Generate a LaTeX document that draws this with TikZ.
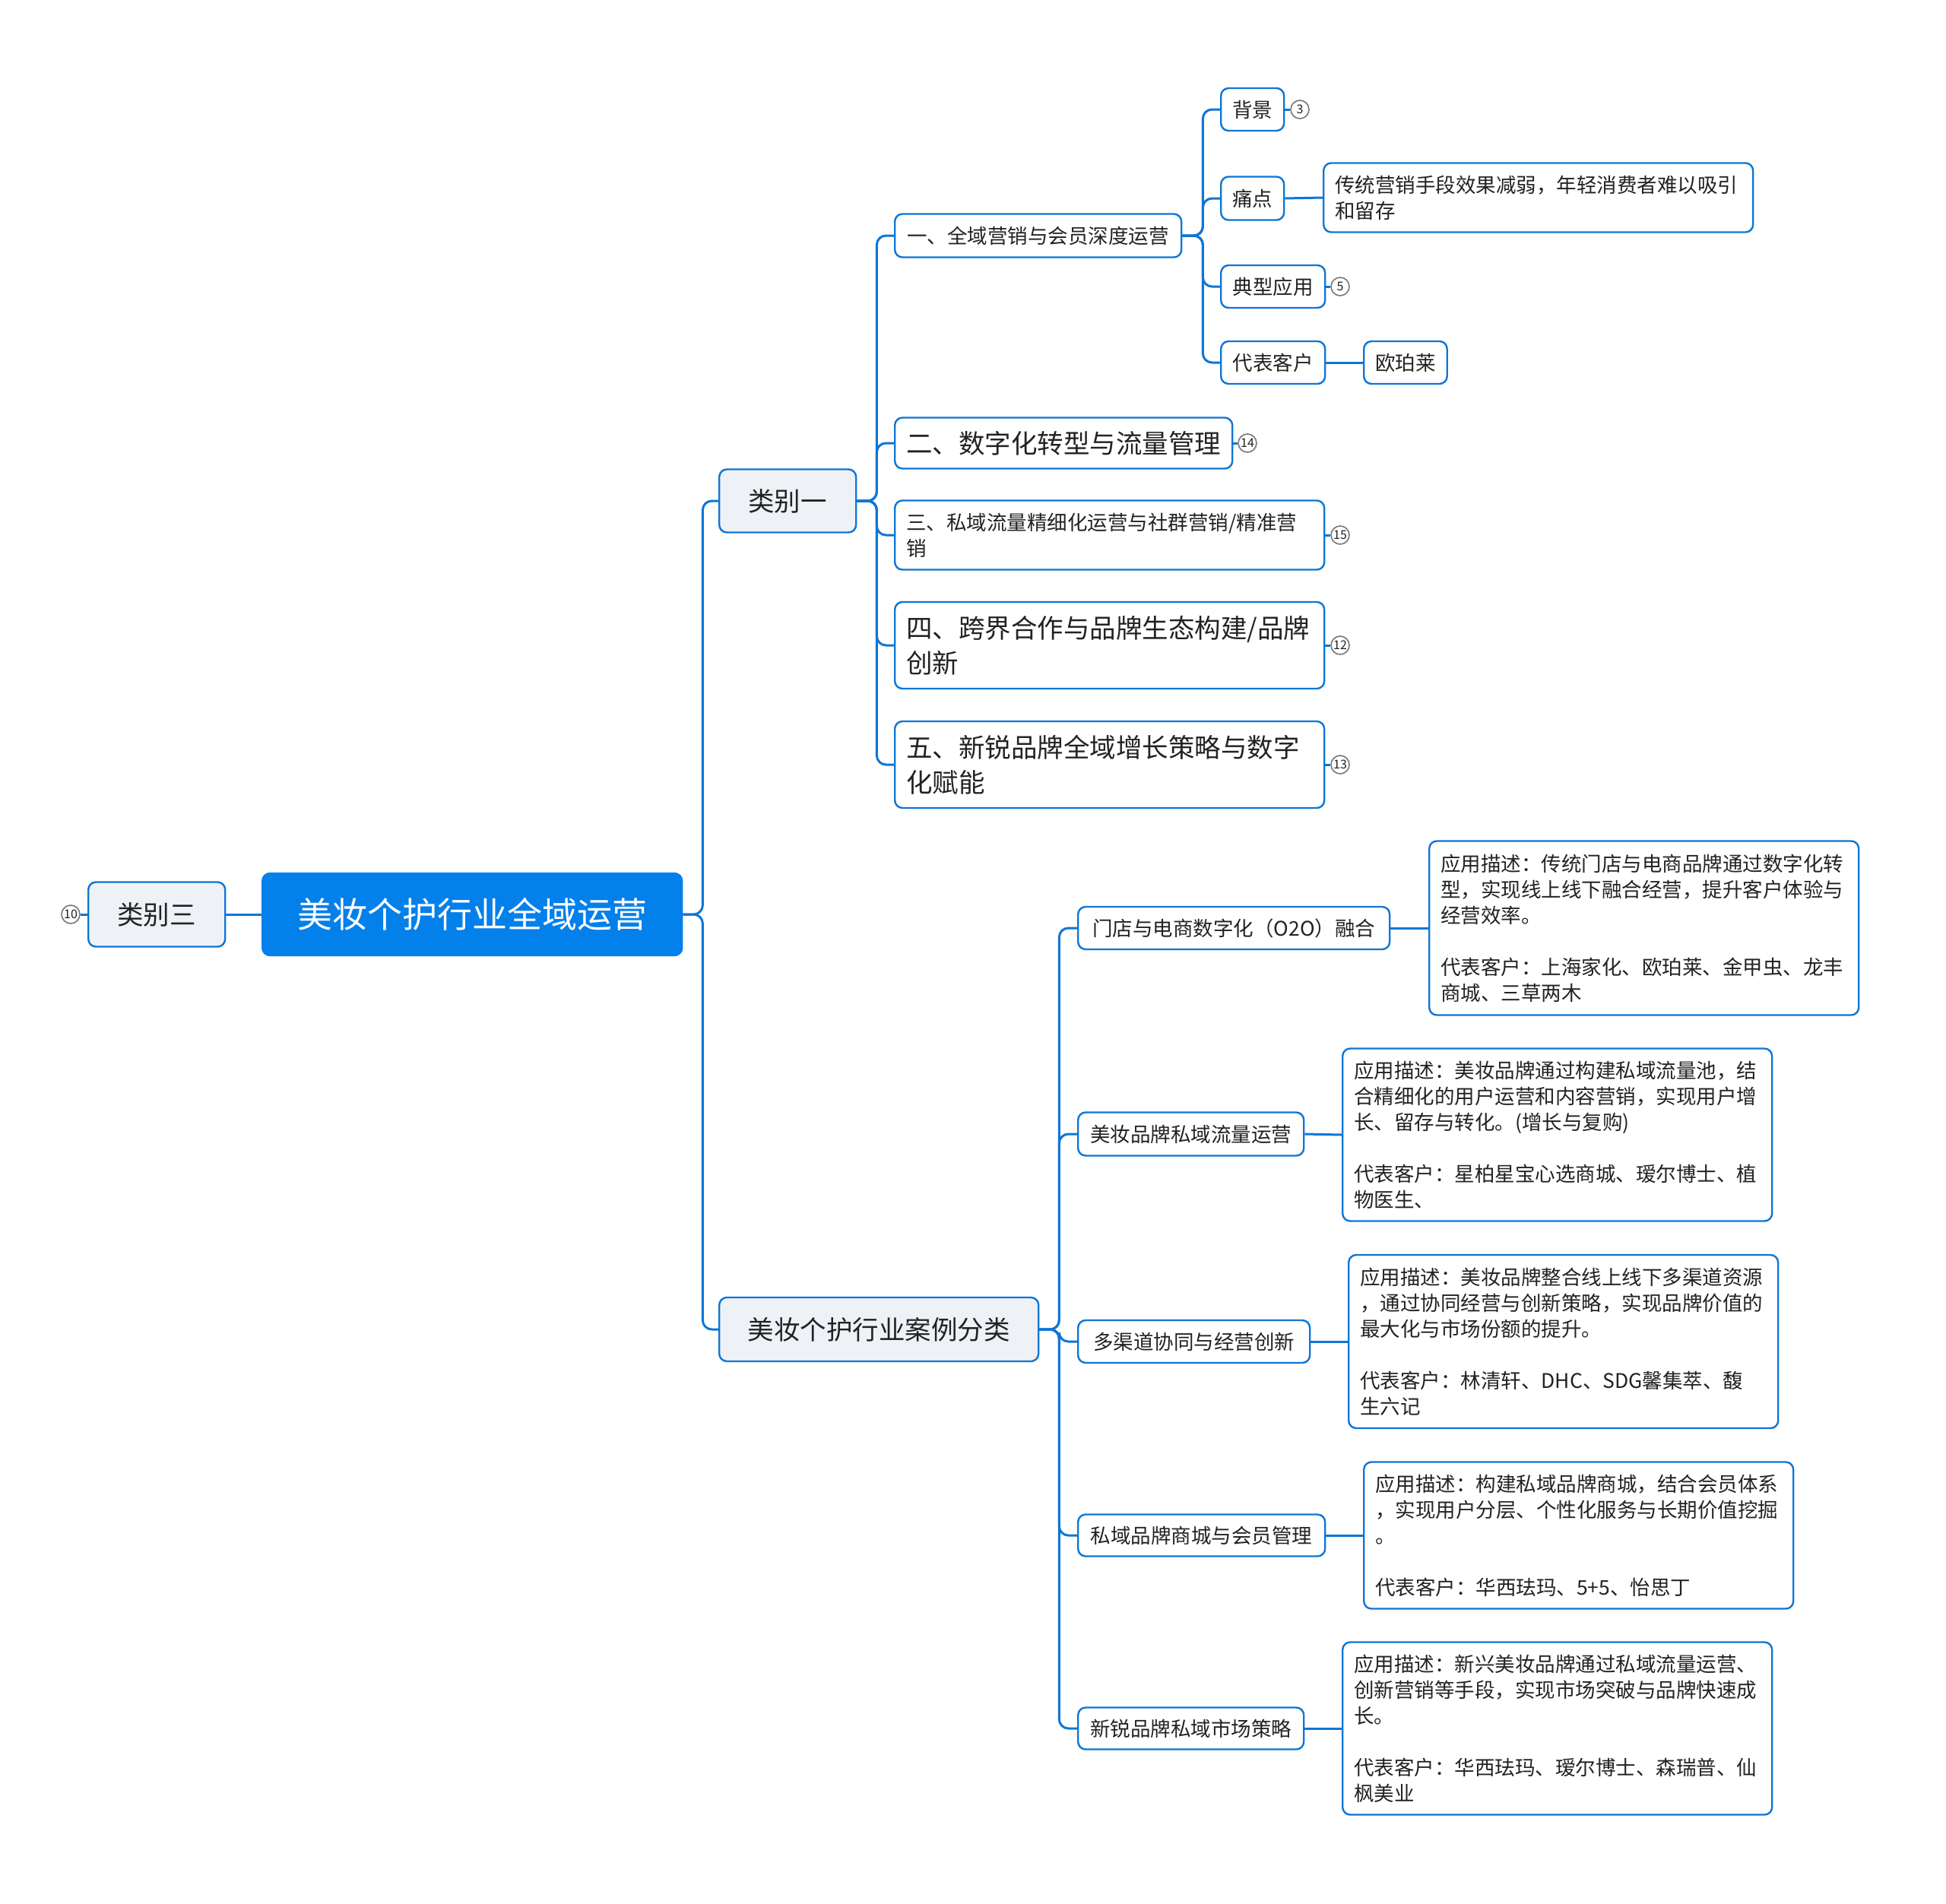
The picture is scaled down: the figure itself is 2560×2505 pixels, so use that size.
\documentclass[tikz,border=0pt]{standalone}
\usepackage{fontspec}
\setmainfont{Noto Sans CJK SC}

\definecolor{lineblue}{RGB}{14,118,214}
\definecolor{rootblue}{RGB}{4,128,235}
\definecolor{paleblue}{RGB}{238,242,247}
\definecolor{inkgrey}{RGB}{34,34,34}
\definecolor{dotgrey}{RGB}{120,120,120}

\newcommand\smalltxt{\fontsize{26.5}{34}\selectfont}
\newcommand\bigtxt{\fontsize{34.5}{46}\selectfont}
\newcommand\roottxt{\fontsize{46}{56}\selectfont}
\newcommand\numtxt{\fontsize{16}{18}\selectfont}

\tikzset{
  conn/.style={draw=lineblue, line width=3pt, rounded corners=12pt},
  topic/.style={draw=lineblue, line width=2.4pt, fill=white, rounded corners=10pt,
    anchor=west, inner xsep=15pt, inner ysep=0pt, text=inkgrey, font=\smalltxt},
  catbox/.style={topic, fill=paleblue, font=\bigtxt},
  rootbox/.style={topic, draw=rootblue, fill=rootblue, text=white, font=\roottxt},
  notebox/.style={topic, align=left},
  numdot/.style={circle, draw=dotgrey, line width=1.6pt, fill=white,
    minimum size=24pt, inner sep=0pt, text=inkgrey, font=\numtxt}
}

\begin{document}
\begin{tikzpicture}[x=1pt, y=-1pt]
\useasboundingbox (0,0) rectangle (2560,2505);

% centre and the left side
\node[rootbox, minimum width=552pt, minimum height=108pt] (root) at (344,1203) {美妆个护行业全域运营};
\node[catbox, minimum width=180pt, minimum height=85pt] (cat3) at (115,1203) {类别三};
\node[numdot] (n10) at (93,1203) {10};

% right side, first level
\node[catbox, minimum width=180pt, minimum height=83pt] (cat1) at (945,659) {类别一};
\node[catbox, minimum width=420pt, minimum height=84pt] (cases) at (945,1749) {美妆个护行业案例分类};

% under 类别一
\node[topic, minimum width=377pt, minimum height=57pt] (t1) at (1176,310) {一、全域营销与会员深度运营};
\node[topic, font=\bigtxt, minimum width=442pt, minimum height=67pt] (t2) at (1176,583) {二、数字化转型与流量管理};
\node[notebox, text width=535pt, minimum height=91pt] (t3) at (1176,704) {三、私域流量精细化运营与社群营销/精准营\\销};
\node[notebox, font=\bigtxt, text width=535pt, minimum height=114pt] (t4) at (1176,849) {四、跨界合作与品牌生态构建/品牌\\创新};
\node[notebox, font=\bigtxt, text width=535pt, minimum height=114pt] (t5) at (1176,1006) {五、新锐品牌全域增长策略与数字\\化赋能};
\node[numdot] (n14) at (1641,583) {14};
\node[numdot] (n15) at (1763,704) {15};
\node[numdot] (n12) at (1763,849) {12};
\node[numdot] (n13) at (1763,1006) {13};

% under 一
\node[topic, minimum width=83pt, minimum height=56pt] (bg) at (1605,144) {背景};
\node[topic, minimum width=83pt, minimum height=57pt] (pain) at (1605,261) {痛点};
\node[topic, minimum width=137pt, minimum height=56pt] (app) at (1605,377) {典型应用};
\node[topic, minimum width=137pt, minimum height=56pt] (cust) at (1605,477) {代表客户};
\node[numdot] (n3) at (1710,144) {3};
\node[numdot] (n5) at (1763,377) {5};
\node[notebox, text width=535pt, minimum height=91pt] (painnote) at (1740,260) {传统营销手段效果减弱，年轻消费者难以吸引\\和留存};
\node[topic, minimum width=109pt, minimum height=56pt] (olay) at (1793,477) {欧珀莱};

% under 案例分类
\node[topic, minimum width=410pt, minimum height=56pt] (c1) at (1417,1221) {门店与电商数字化（O2O）融合};
\node[topic, minimum width=297pt, minimum height=57pt] (c2) at (1417,1492) {美妆品牌私域流量运营};
\node[topic, minimum width=305pt, minimum height=56pt] (c3) at (1417,1765) {多渠道协同与经营创新};
\node[topic, minimum width=325pt, minimum height=55pt] (c4) at (1417,2020) {私域品牌商城与会员管理};
\node[topic, minimum width=297pt, minimum height=55pt] (c5) at (1417,2274) {新锐品牌私域市场策略};

\node[notebox, text width=535pt, minimum height=229pt] (d1) at (1879,1221) {应用描述：传统门店与电商品牌通过数字化转\\型，实现线上线下融合经营，提升客户体验与\\经营效率。\\[34pt]代表客户：上海家化、欧珀莱、金甲虫、龙丰\\商城、三草两木};
\node[notebox, text width=535pt, minimum height=227pt] (d2) at (1765,1493) {应用描述：美妆品牌通过构建私域流量池，结\\合精细化的用户运营和内容营销，实现用户增\\长、留存与转化。(增长与复购)\\[34pt]代表客户：星柏星宝心选商城、瑷尔博士、植\\物医生、};
\node[notebox, text width=535pt, minimum height=228pt] (d3) at (1773,1765) {应用描述：美妆品牌整合线上线下多渠道资源\\，通过协同经营与创新策略，实现品牌价值的\\最大化与市场份额的提升。\\[34pt]代表客户：林清轩、DHC、SDG馨集萃、馥\\生六记};
\node[notebox, text width=535pt, minimum height=193pt] (d4) at (1793,2020) {应用描述：构建私域品牌商城，结合会员体系\\，实现用户分层、个性化服务与长期价值挖掘\\。\\[34pt]代表客户：华西珐玛、5+5、怡思丁};
\node[notebox, text width=535pt, minimum height=227pt] (d5) at (1765,2274) {应用描述：新兴美妆品牌通过私域流量运营、\\创新营销等手段，实现市场突破与品牌快速成\\长。\\[34pt]代表客户：华西珐玛、瑷尔博士、森瑞普、仙\\枫美业};

% connectors
\draw[conn] (n10) -- (cat3.west);
\draw[conn] (cat3.east) -- (root.west);
\draw[conn] (root.east) -- ++(26,0) |- (cat1.west);
\draw[conn] (root.east) -- ++(26,0) |- (cases.west);
\foreach \k in {t1,t2,t3,t4,t5}
  \draw[conn] (cat1.east) -- ++(26,0) |- (\k.west);
\foreach \k in {bg,pain,app,cust}
  \draw[conn] (t1.east) -- ++(27,0) |- (\k.west);
\foreach \k in {c1,c2,c3,c4,c5}
  \draw[conn] (cases.east) -- ++(26,0) |- (\k.west);
\draw[conn] (t2.east) -- (n14);
\draw[conn] (t3.east) -- (n15);
\draw[conn] (t4.east) -- (n12);
\draw[conn] (t5.east) -- (n13);
\draw[conn] (bg.east) -- (n3);
\draw[conn] (app.east) -- (n5);
\draw[conn] (pain.east) -- (painnote.west);
\draw[conn] (cust.east) -- (olay.west);
\draw[conn] (c1.east) -- (d1.west);
\draw[conn] (c2.east) -- (d2.west);
\draw[conn] (c3.east) -- (d3.west);
\draw[conn] (c4.east) -- (d4.west);
\draw[conn] (c5.east) -- (d5.west);
\end{tikzpicture}
\end{document}
